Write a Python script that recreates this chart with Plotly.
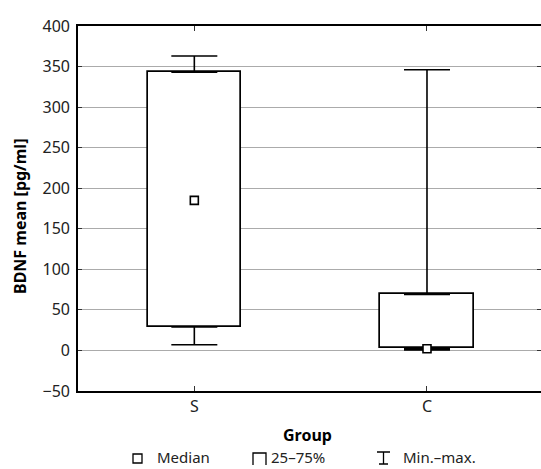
import plotly.graph_objects as go

groups = ["S", "C"]
q1 = [29, 2.5]
q3 = [343, 69]
medians = [185, 2]
mins = [7, 0.5]
maxs = [363, 346]
y_ticks = [-50, 0, 50, 100, 150, 200, 250, 300, 350, 400]

W, H = 541, 469
L, T, R, B = 78, 26, 0, 78
pw, ph = W - L - R, H - T - B

def px(x):
    return (x - L) / pw

def py(y):
    return (H - B - y) / ph

FONT = "Noto Sans"
FS = 16
LFS = 15

fig = go.Figure()

# 25-75% boxes
fig.add_trace(go.Bar(
    x=groups, y=[b - a for a, b in zip(q1, q3)], base=q1, width=0.4,
    marker=dict(color="white", line=dict(color="black", width=1.7)),
    showlegend=False, hoverinfo="skip",
))
# upper whiskers
fig.add_trace(go.Scatter(
    x=groups, y=q3, mode="markers", marker=dict(size=0.1, color="rgba(0,0,0,0)"),
    error_y=dict(type="data", array=[mx - b for mx, b in zip(maxs, q3)],
                 arrayminus=[0, 0], color="black", thickness=1.6, width=23),
    showlegend=False, hoverinfo="skip",
))
# lower whiskers
fig.add_trace(go.Scatter(
    x=groups, y=q1, mode="markers", marker=dict(size=0.1, color="rgba(0,0,0,0)"),
    error_y=dict(type="data", array=[0, 0],
                 arrayminus=[a - mn for a, mn in zip(q1, mins)], color="black",
                 thickness=1.6, width=23),
    showlegend=False, hoverinfo="skip",
))
# medians
fig.add_trace(go.Scatter(
    x=groups, y=medians, mode="markers",
    marker=dict(symbol="square", size=8, color="white", line=dict(color="black", width=1.6)),
    showlegend=False,
))

shapes = []
# legend symbols (decorative)
shapes.append(dict(type="rect", xref="paper", yref="paper",
                   x0=px(133), x1=px(142), y0=py(463), y1=py(454),
                   line=dict(color="black", width=1.3), fillcolor="white"))
shapes.append(dict(type="path", xref="paper", yref="paper",
                   path=f"M {px(253)} {py(465)} L {px(253)} {py(453)} L {px(266)} {py(453)} L {px(266)} {py(465)}",
                   line=dict(color="black", width=1.3)))
shapes.append(dict(type="path", xref="paper", yref="paper",
                   path=(f"M {px(377)} {py(452)} L {px(390)} {py(452)} "
                         f"M {px(383.5)} {py(452)} L {px(383.5)} {py(464)} "
                         f"M {px(379)} {py(464)} L {px(388)} {py(464)}"),
                   line=dict(color="black", width=1.3)))

annotations = [
    dict(text="<b>BDNF mean [pg/ml]</b>", xref="paper", yref="paper",
         x=px(20), y=py(217), textangle=-90, showarrow=False,
         font=dict(family=FONT, size=FS, color="black"), xanchor="center", yanchor="middle"),
    dict(text="<b>Group</b>", xref="paper", yref="paper",
         x=px(307), y=py(435), showarrow=False,
         font=dict(family=FONT, size=FS, color="black"), xanchor="center", yanchor="middle"),
    dict(text="Median", xref="paper", yref="paper", x=px(155), y=py(457),
         showarrow=False, font=dict(family=FONT, size=LFS, color="#222"),
         xanchor="left", yanchor="middle"),
    dict(text="25–75%", xref="paper", yref="paper", x=px(269), y=py(457),
         showarrow=False, font=dict(family=FONT, size=LFS, color="#222"),
         xanchor="left", yanchor="middle"),
    dict(text="Min.–max.", xref="paper", yref="paper", x=px(401), y=py(457),
         showarrow=False, font=dict(family=FONT, size=LFS, color="#222"),
         xanchor="left", yanchor="middle"),
]

fig.update_layout(
    width=W, height=H,
    margin=dict(l=L, r=R, t=T, b=B, pad=0),
    paper_bgcolor="white", plot_bgcolor="white",
    font=dict(family=FONT, size=FS, color="#222"),
    shapes=shapes, annotations=annotations,
    bargap=0,
    yaxis2=dict(overlaying="y", side="right", range=[-50, 400], tickvals=y_ticks,
                showticklabels=False, showgrid=False, showline=False, zeroline=False,
                ticks="inside", ticklen=4, tickcolor="#333", tickwidth=1.4),
)
fig.update_xaxes(
    type="category", range=[-0.5, 1.49],
    showline=True, linecolor="black", linewidth=1.6, mirror="ticks",
    ticks="inside", ticklen=5, tickcolor="#333", tickwidth=1.2,
    showgrid=False, tickfont=dict(family=FONT, size=FS, color="#222"),
)
fig.layout.yaxis.update(
    range=[-50, 400], tickvals=y_ticks,
    showline=True, linecolor="black", linewidth=1.6, mirror=False,
    ticks="inside", ticklen=4, tickcolor="#333", tickwidth=1.2,
    showgrid=True, gridcolor="#ababab", gridwidth=1.4, zeroline=False,
    ticklabelstandoff=3,
    tickfont=dict(family=FONT, size=FS, color="#222"),
)
# invisible trace to activate right-side tick axis
fig.add_trace(go.Scatter(x=[groups[0]], y=[None], yaxis="y2", showlegend=False, hoverinfo="skip"))

fig.write_html("out.html", config={"displayModeBar": False})

with open("out.html", encoding="utf-8") as f:
    html = f.read()
html = html.replace("<head>", "<head><style>html,body{margin:0;padding:0;overflow:hidden}</style>", 1)
with open("out.html", "w", encoding="utf-8") as f:
    f.write(html)
